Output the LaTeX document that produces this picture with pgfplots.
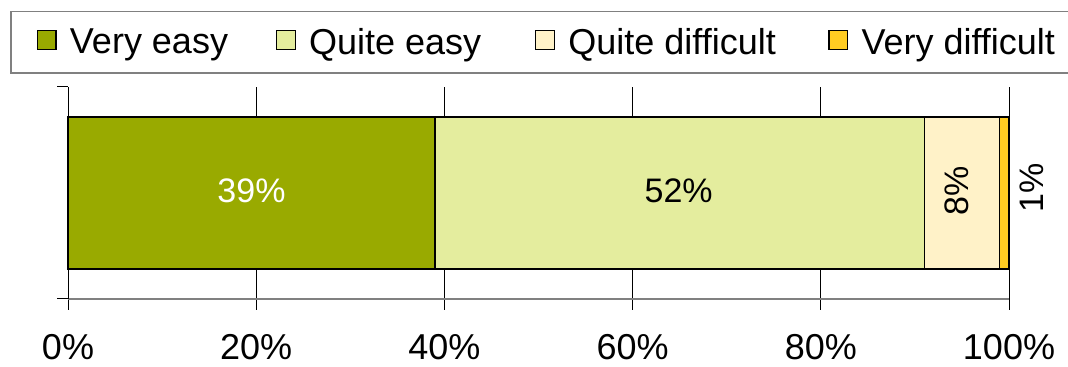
\documentclass[border=0pt]{standalone}
\usepackage{fontspec}
\setmainfont{Liberation Sans}
\usepackage{pgfplots}
\pgfplotsset{compat=1.18}

\definecolor{veryeasy}{RGB}{153,170,0}
\definecolor{quiteeasy}{RGB}{228,237,158}
\definecolor{quitediff}{RGB}{255,242,200}
\definecolor{verydiff}{RGB}{255,204,34}
\definecolor{axisgray}{RGB}{128,128,128}

\pgfplotsset{
  common/.style={
    at={(51pt,51pt)}, anchor=south west,
    scale only axis, width=705.75pt, height=159pt,
    xmin=0, xmax=100, ymin=0, ymax=1,
  },
}

\begin{document}
\begin{tikzpicture}
\begin{axis}[
  common,
  xbar stacked, bar width=114pt,
  axis x line*=bottom, axis y line*=left,
  x axis line style={-, draw=axisgray, line width=1.5pt},
  y axis line style={-, draw=black, line width=0.75pt},
  tick align=outside, major tick length=8.25pt,
  tick style={black, line width=0.75pt},
  xtick={0,20,40,60,80,100}, ytick={0,1},
  yticklabels={},
  xmajorgrids, major grid style={black, line width=0.75pt},
  xticklabel={\pgfmathprintnumber{\tick}\%},
  /pgf/number format/assume math mode=true,
  ticklabel style={font=\fontsize{27}{30}\selectfont},
  xticklabel style={yshift=-15pt},
  clip=false,
  legend columns=4,
  legend style={
    at={(-0.0616,1.3597)}, anchor=north west,
    draw=axisgray, line width=1.1pt,
    inner xsep=19.5pt, inner ysep=12.5pt,
    nodes={inner sep=0pt},
    column sep=10pt,
    font=\fontsize{27}{29}\selectfont,
  },
  legend image code/.code={%
    \draw[#1, draw=black, line width=0.9pt] (0pt,-5.5pt) rectangle (14pt,8.5pt);},
]
\addplot[fill=veryeasy,  draw=black, line width=1pt] coordinates {(39,0.5)};
\addlegendentry{\makebox[144.5pt][l]{Very easy}}
\addplot[fill=quiteeasy, draw=black, line width=1pt] coordinates {(52,0.5)};
\addlegendentry{\makebox[159.5pt][l]{Quite easy}}
\addplot[fill=quitediff, draw=black, line width=1pt] coordinates {(8,0.5)};
\addlegendentry{\makebox[185pt][l]{Quite difficult}}
\addplot[fill=verydiff,  draw=black, line width=1pt] coordinates {(1,0.5)};
\addlegendentry{Very difficult}
\end{axis}

% value labels on a plain overlay axis
\begin{axis}[
  common, hide axis, clip=false,
  nodes near coords, point meta=explicit symbolic,
  every node near coord/.append style={anchor=center, font=\fontsize{25.5}{27}\selectfont},
]
\addplot[draw=none, mark=none, every node near coord/.append style={text=white}]
  coordinates {(19.5,0.51) [39\%]};
\addplot[draw=none, mark=none, every node near coord/.append style={text=black}]
  coordinates {(64.9,0.51) [52\%]};
\addplot[draw=none, mark=none, every node near coord/.append style={text=black, rotate=90}]
  coordinates {(94.5,0.51) [8\%] (102.4,0.524) [1\%]};
\end{axis}

\pgfresetboundingbox
\path[use as bounding box] (0,0) rectangle (801pt,275.25pt);
\end{tikzpicture}
\end{document}
